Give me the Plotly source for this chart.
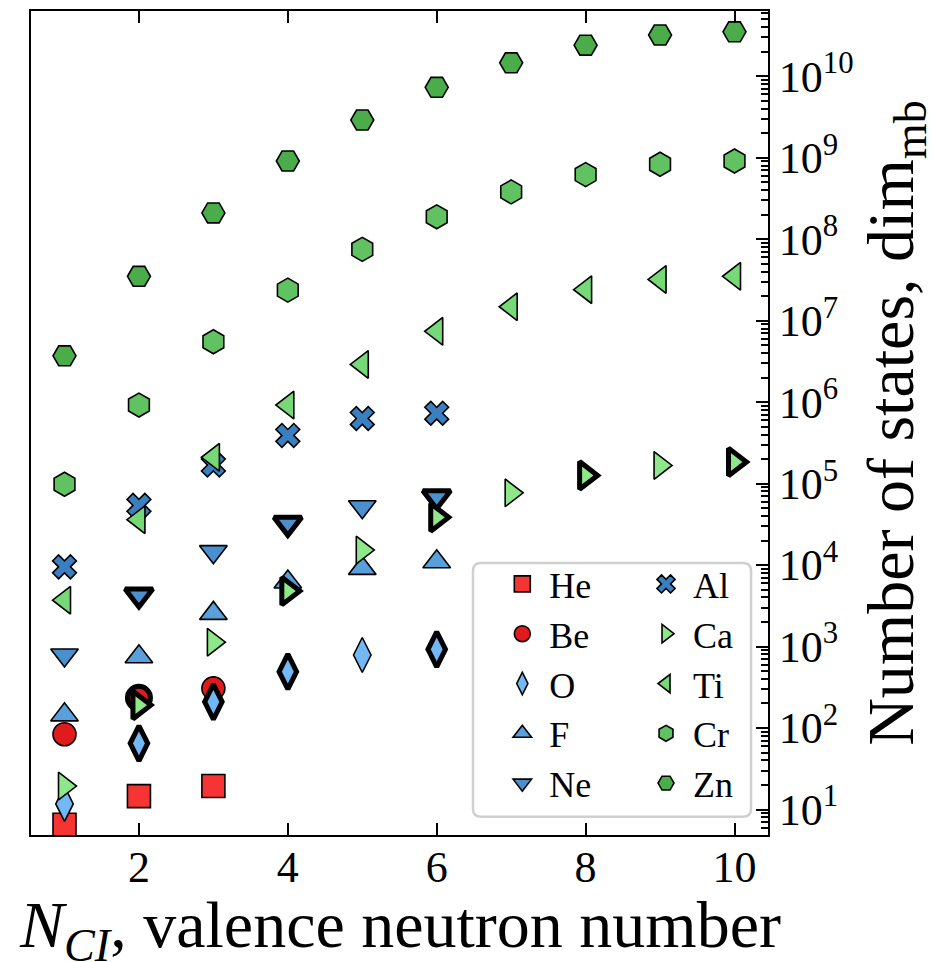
import plotly.graph_objects as go

FONT = "Liberation Serif"

# ---------------- data ----------------
n_ci = [1, 2, 3, 4, 5, 6, 7, 8, 9, 10]

he_y = [6.5, 14.6, 19.4]
be_y = [84, 235, 307]
o_y = [11.7, 65, 210, 491, 787, 924]
f_y = [145, 750, 2550, 6200, 9100, 11000]
ne_y = [787, 4290, 14600, 32500, 52000, 69000]
al_y = [9500, 54000, 169000, 390000, 630000, 730000]
ca_y = [19.4, 191, 1130, 4800, 15300, 38500, 77000, 126000, 167000, 184000]
ti_y = [3700, 36000, 210000, 920000, 2.9e6, 7.4e6, 1.48e7, 2.4e7, 3.2e7, 3.5e7]
cr_y = [9.8e4, 9.2e5, 5.5e6, 2.37e7, 7.5e7, 1.88e8, 3.8e8, 6.2e8, 8.3e8, 9.1e8]
zn_y = [3.7e6, 3.5e7, 2.1e8, 9.1e8, 2.9e9, 7.3e9, 1.46e10, 2.4e10, 3.2e10, 3.5e10]

# N_CI values drawn with a heavy outline
he_bold = []
be_bold = [2]
o_bold = [2, 3, 4, 6]
f_bold = []
ne_bold = [2, 4, 6]
al_bold = []
ca_bold = [2, 4, 6, 8, 10]
ti_bold = []
cr_bold = []
zn_bold = []

x_tickvals = [2, 4, 6, 8, 10]
y_tickvals = [10 ** k for k in range(1, 11)]
y_ticktext = ["10<sup>%d</sup>" % k for k in range(1, 11)]

x_title = "<i>N</i><sub><i>CI</i></sub>, valence neutron number"
y_title = "Number of states, dim<sub>mb</sub>"

elements = [
    # name, values, bold, symbol, colour, size, legend
    ("He", he_y, he_bold, "square", "#f63434", 23, "legend"),
    ("Be", be_y, be_bold, "circle", "#e01b1e", 23, "legend"),
    ("O", o_y, o_bold, "diamond-tall", "#72b8f4", 25, "legend"),
    ("F", f_y, f_bold, "triangle-up", "#589fdc", 24, "legend"),
    ("Ne", ne_y, ne_bold, "triangle-down", "#4a8fce", 24, "legend"),
    ("Al", al_y, al_bold, "x", "#3a7fc0", 21, "legend2"),
    ("Ca", ca_y, ca_bold, "triangle-right", "#8ee88a", 24, "legend2"),
    ("Ti", ti_y, ti_bold, "triangle-left", "#76d876", 24, "legend2"),
    ("Cr", cr_y, cr_bold, "hexagon", "#60c260", 24, "legend2"),
    ("Zn", zn_y, zn_bold, "hexagon2", "#4aad4a", 23, "legend2"),
]

fig = go.Figure()

# normal points
for name, ys, bold, sym, col, sz, leg in elements:
    xs = n_ci[: len(ys)]
    fig.add_trace(go.Scatter(
        x=xs, y=ys, mode="markers", name=name, legend=leg, legendgroup=name,
        marker=dict(symbol=sym, color=col, size=sz,
                    line=dict(color="black", width=1.6)),
    ))

# heavy-outlined points on top
for name, ys, bold, sym, col, sz, leg in elements:
    if not bold:
        continue
    xs = [x for x in n_ci[: len(ys)] if x in bold]
    yb = [y for x, y in zip(n_ci, ys) if x in bold]
    fig.add_trace(go.Scatter(
        x=xs, y=yb, mode="markers", name=name, legend=leg, legendgroup=name,
        showlegend=False,
        marker=dict(symbol=sym, color=col, size=sz,
                    line=dict(color="black", width=5)),
    ))

# legend frame (rounded)
x0, x1, y0, y1 = 0.5997, 0.977, 0.022, 0.330
rx, ry = 8 / 737, 8 / 824
path = (f"M{x0+rx},{y0} L{x1-rx},{y0} Q{x1},{y0} {x1},{y0+ry} "
        f"L{x1},{y1-ry} Q{x1},{y1} {x1-rx},{y1} "
        f"L{x0+rx},{y1} Q{x0},{y1} {x0},{y1-ry} "
        f"L{x0},{y0+ry} Q{x0},{y0} {x0+rx},{y0} Z")
fig.add_shape(type="path", path=path, xref="paper", yref="paper",
              line=dict(color="#d0d0d0", width=2.5), fillcolor="white",
              layer="above")

# x-axis title as an annotation (exact placement)
fig.add_annotation(text=x_title, xref="paper", yref="paper", x=0.5, y=-0.115,
                   xanchor="center", yanchor="middle", showarrow=False,
                   font=dict(family=FONT, size=66, color="black"))

axis_font = dict(family=FONT, size=44, color="black")
fig.update_layout(
    width=935, height=962,
    margin=dict(l=23, r=175, t=3, b=135),
    paper_bgcolor="white", plot_bgcolor="white",
    font=dict(family=FONT, color="black"),
    xaxis=dict(
        range=[0.55, 10.45], tickmode="array", tickvals=x_tickvals,
        ticks="inside", ticklen=12, tickwidth=2, tickcolor="black",
        showline=True, linewidth=2, linecolor="black", mirror="allticks",
        showgrid=False, zeroline=False, tickfont=axis_font,
        ticklabelstandoff=-8, automargin=False,
    ),
    yaxis=dict(
        type="log", range=[0.687, 10.80], side="right",
        tickmode="array", tickvals=y_tickvals, ticktext=y_ticktext,
        ticks="inside", ticklen=12, tickwidth=2, tickcolor="black",
        minor=dict(ticks="inside", ticklen=7, tickwidth=1.5, tickcolor="black",
                   dtick="D1", showgrid=False),
        showline=True, linewidth=2, linecolor="black", mirror=True,
        showgrid=False, zeroline=False, tickfont=axis_font,
        ticklabelstandoff=0, automargin=False,
        title=dict(text=y_title,
                   font=dict(family=FONT, size=66, color="black"), standoff=0),
    ),
    legend=dict(x=0.630, y=0.341, xanchor="left", yanchor="top",
                bgcolor="rgba(0,0,0,0)", borderwidth=0,
                font=dict(family=FONT, size=36, color="black"),
                itemwidth=44, tracegroupgap=0),
    legend2=dict(x=0.825, y=0.341, xanchor="left", yanchor="top",
                 bgcolor="rgba(0,0,0,0)", borderwidth=0,
                 font=dict(family=FONT, size=36, color="black"),
                 itemwidth=44, tracegroupgap=0),
)

fig.write_html("out.html")
